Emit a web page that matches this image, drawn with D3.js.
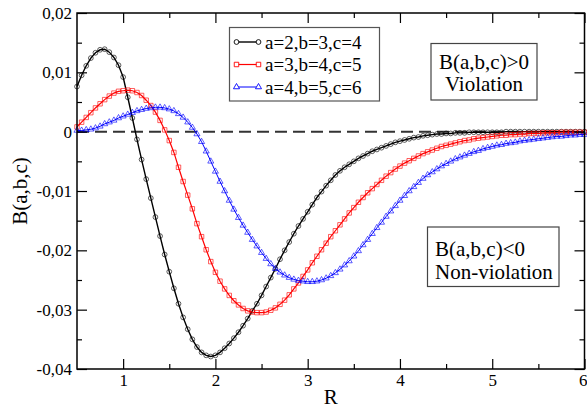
<!DOCTYPE html>
<html>
<head>
<meta charset="utf-8">
<script src="https://cdn.jsdelivr.net/npm/d3@7"></script>
<style>
  html, body { margin: 0; padding: 0; background: #fff; }
  svg { display: block; }
</style>
</head>
<body>
<svg id="chart" width="587" height="408"></svg>
<script>
// sample positions (R) shared by all three series
const rValues = [
  0.50, 0.55, 0.60, 0.65, 0.70, 0.75, 0.80, 0.85, 0.90, 0.95,
  1.00, 1.05, 1.10, 1.15, 1.20, 1.25, 1.30, 1.35, 1.40, 1.45,
  1.50, 1.55, 1.60, 1.65, 1.70, 1.75, 1.80, 1.85, 1.90, 1.95,
  2.00, 2.05, 2.10, 2.15, 2.20, 2.25, 2.30, 2.35, 2.40, 2.45,
  2.50, 2.55, 2.60, 2.65, 2.70, 2.75, 2.80, 2.85, 2.90, 2.95,
  3.00, 3.05, 3.10, 3.15, 3.20, 3.25, 3.30, 3.35, 3.40, 3.45,
  3.50, 3.55, 3.60, 3.65, 3.70, 3.75, 3.80, 3.85, 3.90, 3.95,
  4.00, 4.05, 4.10, 4.15, 4.20, 4.25, 4.30, 4.35, 4.40, 4.45,
  4.50, 4.55, 4.60, 4.65, 4.70, 4.75, 4.80, 4.85, 4.90, 4.95,
  5.00, 5.05, 5.10, 5.15, 5.20, 5.25, 5.30, 5.35, 5.40, 5.45,
  5.50, 5.55, 5.60, 5.65, 5.70, 5.75, 5.80, 5.85, 5.90, 5.95,
  6.00
];

// a=2, b=3, c=4
const b234 = [
  0.0076, 0.0095, 0.0111, 0.0124, 0.0133, 0.0138, 0.0139, 0.0134, 0.0125, 0.0112,
  0.0092, 0.0058, 0.0023, -0.0013, -0.0047, -0.0080, -0.0112, -0.0144, -0.0176, -0.0207,
  -0.0236, -0.0264, -0.0290, -0.0313, -0.0333, -0.0350, -0.0363, -0.0372, -0.0377, -0.0379,
  -0.0377, -0.0372, -0.0365, -0.0357, -0.0348, -0.0338, -0.0327, -0.0315, -0.0302, -0.0290,
  -0.0276, -0.0261, -0.0246, -0.0231, -0.0215, -0.0200, -0.0186, -0.0172, -0.0159, -0.0147,
  -0.0135, -0.0123, -0.0111, -0.0101, -0.0091, -0.0082, -0.0073, -0.0066, -0.0060, -0.0055,
  -0.0050, -0.0045, -0.0041, -0.0037, -0.0033, -0.0030, -0.0027, -0.0024, -0.0021, -0.0018,
  -0.0016, -0.0014, -0.0012, -0.0010, -0.0009, -0.0007, -0.0006, -0.0005, -0.0004, -0.0004,
  -0.0003, -0.0003, -0.0002, -0.0002, -0.0002, -0.0001, -0.0001, -0.0001, -0.0001, -0.0001,
  -0.0001, -0.0001, -0.0001, 0, 0, 0, 0, 0, 0, 0,
  0, 0, 0, 0, 0, 0, 0, 0, 0, 0,
  0
];

// a=3, b=4, c=5
const b345 = [
  0.0008, 0.0016, 0.0024, 0.0032, 0.0040, 0.0047, 0.0054, 0.0060, 0.0065, 0.0068,
  0.0069, 0.0070, 0.0069, 0.0066, 0.0061, 0.0053, 0.0044, 0.0033, 0.0019, 0.0003,
  -0.0015, -0.0035, -0.0060, -0.0084, -0.0107, -0.0130, -0.0155, -0.0177, -0.0199, -0.0219,
  -0.0237, -0.0252, -0.0265, -0.0276, -0.0285, -0.0292, -0.0298, -0.0302, -0.0304, -0.0305,
  -0.0305, -0.0304, -0.0301, -0.0297, -0.0291, -0.0284, -0.0275, -0.0265, -0.0255, -0.0244,
  -0.0233, -0.0221, -0.0210, -0.0199, -0.0188, -0.0177, -0.0167, -0.0157, -0.0147, -0.0137,
  -0.0128, -0.0119, -0.0111, -0.0103, -0.0096, -0.0089, -0.0082, -0.0075, -0.0069, -0.0063,
  -0.0058, -0.0053, -0.0049, -0.0045, -0.0041, -0.0037, -0.0034, -0.0031, -0.0028, -0.0025,
  -0.0023, -0.0021, -0.0019, -0.0017, -0.0015, -0.0014, -0.0012, -0.0011, -0.0010, -0.0009,
  -0.0008, -0.0007, -0.0006, -0.0006, -0.0005, -0.0005, -0.0004, -0.0004, -0.0003, -0.0003,
  -0.0003, -0.0002, -0.0002, -0.0002, -0.0002, -0.0001, -0.0001, -0.0001, -0.0001, -0.0001,
  -0.0001
];

// a=4, b=5, c=6
const b456 = [
  0.0002, 0.0002, 0.0003, 0.0004, 0.0006, 0.0009, 0.0013, 0.0016, 0.0019, 0.0023,
  0.0026, 0.0029, 0.0032, 0.0035, 0.0037, 0.0039, 0.0040, 0.0041, 0.0041, 0.0040,
  0.0038, 0.0035, 0.0030, 0.0024, 0.0016, 0.0007, -0.0004, -0.0017, -0.0033, -0.0050,
  -0.0067, -0.0084, -0.0100, -0.0116, -0.0131, -0.0145, -0.0158, -0.0170, -0.0182, -0.0193,
  -0.0204, -0.0214, -0.0223, -0.0231, -0.0237, -0.0242, -0.0246, -0.0249, -0.0251, -0.0252,
  -0.0253, -0.0253, -0.0252, -0.0250, -0.0247, -0.0243, -0.0238, -0.0232, -0.0225, -0.0218,
  -0.0210, -0.0201, -0.0191, -0.0182, -0.0172, -0.0162, -0.0153, -0.0143, -0.0134, -0.0125,
  -0.0116, -0.0108, -0.0100, -0.0093, -0.0086, -0.0079, -0.0073, -0.0068, -0.0063, -0.0058,
  -0.0054, -0.0050, -0.0046, -0.0043, -0.0040, -0.0037, -0.0034, -0.0032, -0.0029, -0.0027,
  -0.0025, -0.0023, -0.0022, -0.0020, -0.0019, -0.0018, -0.0016, -0.0015, -0.0014, -0.0013,
  -0.0012, -0.0011, -0.0010, -0.0009, -0.0008, -0.0008, -0.0007, -0.0006, -0.0006, -0.0005,
  -0.0005
];

const seriesLabels = ["a=2,b=3,c=4", "a=3,b=4,c=5", "a=4,b=5,c=6"];

const xMajorTicks = [1, 2, 3, 4, 5, 6];
const xTickLabels = ["1", "2", "3", "4", "5", "6"];
const xMinorTicks = [1.5, 2.5, 3.5, 4.5, 5.5];
const yMajorTicks = [-0.04, -0.03, -0.02, -0.01, 0, 0.01, 0.02];
const yTickLabels = ["-0,04", "-0,03", "-0,02", "-0,01", "0", "0,01", "0,02"];
const yMinorTicks = [-0.035, -0.025, -0.015, -0.005, 0.005, 0.015];

const FONT = "'Liberation Serif', 'DejaVu Serif', serif";

const svg = d3.select("#chart").attr("font-family", FONT);
const plot = { left: 77, right: 584.5, top: 13, bottom: 369 };

const x = d3.scaleLinear().domain([0.5, 6]).range([plot.left, plot.right]);
const y = d3.scaleLinear().domain([-0.04, 0.02]).range([plot.bottom, plot.top]);

const series = [
  { values: b234, color: "#000000", symbol: d3.symbolCircle, size: 18, width: 1.4 },
  { values: b345, color: "#ff0000", symbol: d3.symbolSquare, size: 20, width: 1.2 },
  { values: b456, color: "#0000ff", symbol: d3.symbolTriangle, size: 16, width: 1.0 },
].map((s, i) => ({ ...s, label: seriesLabels[i] }));

// zero reference line
svg.append("line")
  .attr("x1", plot.left).attr("x2", plot.right)
  .attr("y1", y(0)).attr("y2", y(0))
  .attr("stroke", "#333")
  .attr("stroke-width", 2)
  .attr("stroke-dasharray", "12,6");

// curves + markers
const line = d3.line()
  .x((d) => x(d[0]))
  .y((d) => y(d[1]));

series.forEach((s) => {
  const pts = rValues.map((r, i) => [r, s.values[i]]);
  const g = svg.append("g");

  g.append("path")
    .datum(pts)
    .attr("fill", "none")
    .attr("stroke", s.color)
    .attr("stroke-width", s.width)
    .attr("d", line);

  g.selectAll("path.mk")
    .data(pts)
    .enter()
    .append("path")
    .attr("class", "mk")
    .attr("d", d3.symbol().type(s.symbol).size(s.size))
    .attr("transform", (d) => `translate(${x(d[0])},${y(d[1])})`)
    .attr("fill", "none")
    .attr("stroke", s.color)
    .attr("stroke-opacity", 0.7)
    .attr("stroke-width", 0.9);
});

// axes: ticks point inward on all four sides
const axisStyle = (g) => {
  g.attr("font-family", FONT).attr("font-size", 17);
  g.select(".domain").remove();
  g.selectAll("line").attr("stroke", "#000").attr("stroke-width", 1.2);
  g.selectAll("text").attr("fill", "#000");
};

const xLabels = svg.append("g")
  .attr("transform", `translate(0,${plot.bottom})`)
  .call(d3.axisBottom(x).tickValues(xMajorTicks).tickSize(-10).tickPadding(5)
    .tickFormat((d, i) => xTickLabels[i]))
  .call(axisStyle);
// last label sits on the page edge: keep it inside
xLabels.selectAll("text")
  .filter((d) => d === 6)
  .attr("text-anchor", "end")
  .attr("dx", 2.5);

svg.append("g")
  .attr("transform", `translate(0,${plot.bottom})`)
  .call(d3.axisBottom(x).tickValues(xMinorTicks).tickSize(-5).tickFormat(""))
  .call(axisStyle);

svg.append("g")
  .attr("transform", `translate(0,${plot.top})`)
  .call(d3.axisTop(x).tickValues(xMajorTicks).tickSize(-10).tickFormat(""))
  .call(axisStyle);
svg.append("g")
  .attr("transform", `translate(0,${plot.top})`)
  .call(d3.axisTop(x).tickValues(xMinorTicks).tickSize(-5).tickFormat(""))
  .call(axisStyle);

svg.append("g")
  .attr("transform", `translate(${plot.left},0)`)
  .call(d3.axisLeft(y).tickValues(yMajorTicks).tickSize(-10).tickPadding(5)
    .tickFormat((d, i) => yTickLabels[i]))
  .call(axisStyle);
svg.append("g")
  .attr("transform", `translate(${plot.left},0)`)
  .call(d3.axisLeft(y).tickValues(yMinorTicks).tickSize(-5).tickFormat(""))
  .call(axisStyle);

svg.append("g")
  .attr("transform", `translate(${plot.right},0)`)
  .call(d3.axisRight(y).tickValues(yMajorTicks).tickSize(-10).tickFormat(""))
  .call(axisStyle);
svg.append("g")
  .attr("transform", `translate(${plot.right},0)`)
  .call(d3.axisRight(y).tickValues(yMinorTicks).tickSize(-5).tickFormat(""))
  .call(axisStyle);

// frame
svg.append("rect")
  .attr("x", plot.left).attr("y", plot.top)
  .attr("width", plot.right - plot.left)
  .attr("height", plot.bottom - plot.top)
  .attr("fill", "none")
  .attr("stroke", "#000")
  .attr("stroke-width", 1.5);

// axis titles
svg.append("text")
  .attr("x", (plot.left + plot.right) / 2)
  .attr("y", 404)
  .attr("text-anchor", "middle")
  .attr("font-size", 21)
  .text("R");

svg.append("text")
  .attr("transform", `translate(27,${(plot.top + plot.bottom) / 2}) rotate(-90)`)
  .attr("text-anchor", "middle")
  .attr("font-size", 21)
  .text("B(a,b,c)");

// legend
const legend = svg.append("g").attr("transform", "translate(229.5,27.5)");
legend.append("rect")
  .attr("width", 150).attr("height", 73.5)
  .attr("fill", "#fff")
  .attr("stroke", "#555")
  .attr("stroke-width", 1.2);

const rows = legend.selectAll("g.legend-row")
  .data(series)
  .enter()
  .append("g")
  .attr("class", "legend-row")
  .attr("transform", (_, i) => `translate(0,${14.5 + i * 22.5})`);

rows.append("line")
  .attr("x1", 7).attr("x2", 29)
  .attr("stroke", (d) => d.color)
  .attr("stroke-width", (d) => d.width);

rows.selectAll("path")
  .data((d) => [[7, d], [29, d]])
  .enter()
  .append("path")
  .attr("d", (p) => d3.symbol().type(p[1].symbol).size(p[1].size)())
  .attr("transform", (p) => `translate(${p[0]},0)`)
  .attr("fill", "#fff")
  .attr("stroke", (p) => p[1].color)
  .attr("stroke-width", 0.9);

rows.append("text")
  .attr("x", 35.5)
  .attr("dy", "0.35em")
  .attr("font-size", 19)
  .text((d) => d.label);

// annotation boxes
const notes = [
  { box: [431, 43.5, 106, 56.5], lines: ["B(a,b,c)>0", "Violation"], anchor: "middle", tx: 484, ty: [62, 84] },
  { box: [427.5, 227, 131.5, 59.5], lines: ["B(a,b,c)<0", "Non-violation"], anchor: "start", tx: 435, ty: [248.5, 272] },
];

notes.forEach((n) => {
  svg.append("rect")
    .attr("x", n.box[0]).attr("y", n.box[1])
    .attr("width", n.box[2]).attr("height", n.box[3])
    .attr("fill", "#fff")
    .attr("stroke", "#444")
    .attr("stroke-width", 1.2);
  n.lines.forEach((t, i) => {
    svg.append("text")
      .attr("x", n.tx)
      .attr("y", n.ty[i])
      .attr("dy", "0.35em")
      .attr("text-anchor", n.anchor)
      .attr("font-size", 21)
      .text(t);
  });
});
</script>
</body>
</html>
